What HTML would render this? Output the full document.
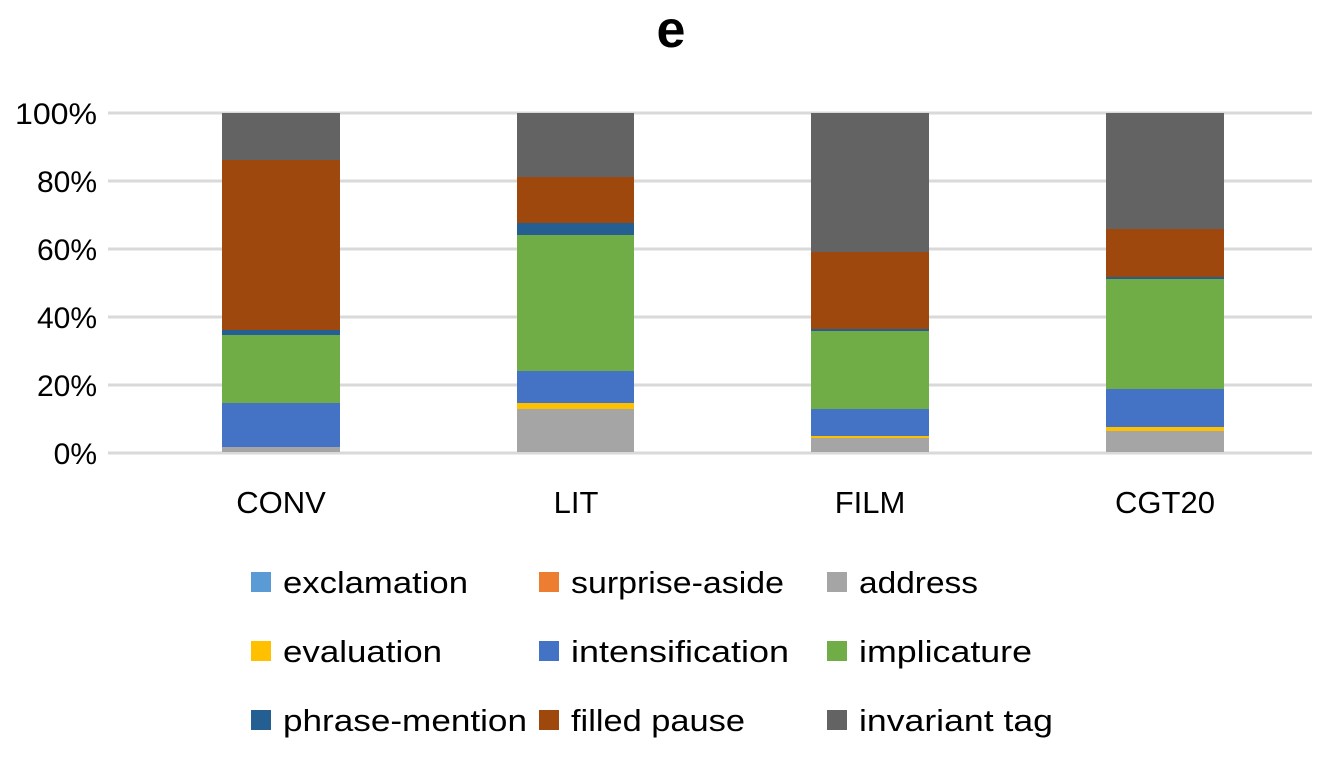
<!DOCTYPE html>
<html><head><meta charset="utf-8"><style>
body{margin:0;background:#fff;}
svg text{font-family:"Liberation Sans",sans-serif;fill:#000;}
</style></head><body>
<svg width="1330" height="756" xmlns="http://www.w3.org/2000/svg">
<rect width="1330" height="756" fill="#fff"/>
<text x="671" y="47" font-size="52" font-weight="bold" text-anchor="middle">e</text>
<g stroke="#d9d9d9" stroke-width="3">
<line x1="108" x2="1312" y1="113" y2="113"/>
<line x1="108" x2="1312" y1="181" y2="181"/>
<line x1="108" x2="1312" y1="249" y2="249"/>
<line x1="108" x2="1312" y1="317" y2="317"/>
<line x1="108" x2="1312" y1="385" y2="385"/>
<line x1="108" x2="1312" y1="453" y2="453"/>
</g>
<g font-size="30" text-anchor="end">
<text x="97" y="124" textLength="82" lengthAdjust="spacingAndGlyphs">100%</text>
<text x="97" y="192">80%</text>
<text x="97" y="260">60%</text>
<text x="97" y="328">40%</text>
<text x="97" y="396">20%</text>
<text x="97" y="464">0%</text>
</g>
<g transform="translate(222,0)">
<rect y="447" width="118" height="5" fill="#a5a5a5"/>
<rect y="403" width="118" height="44" fill="#4472c4"/>
<rect y="335" width="118" height="68" fill="#70ad47"/>
<rect y="330" width="118" height="5" fill="#255e91"/>
<rect y="160" width="118" height="170" fill="#9e480e"/>
<rect y="113" width="118" height="47" fill="#636363"/>
</g>
<g transform="translate(517,0)">
<rect y="409" width="117" height="43" fill="#a5a5a5"/>
<rect y="403" width="117" height="6" fill="#ffc000"/>
<rect y="371" width="117" height="32" fill="#4472c4"/>
<rect y="235" width="117" height="136" fill="#70ad47"/>
<rect y="223" width="117" height="12" fill="#255e91"/>
<rect y="177" width="117" height="46" fill="#9e480e"/>
<rect y="113" width="117" height="64" fill="#636363"/>
</g>
<g transform="translate(811,0)">
<rect y="438" width="118" height="14" fill="#a5a5a5"/>
<rect y="436" width="118" height="2" fill="#ffc000"/>
<rect y="409" width="118" height="27" fill="#4472c4"/>
<rect y="331" width="118" height="78" fill="#70ad47"/>
<rect y="329" width="118" height="2" fill="#255e91"/>
<rect y="252" width="118" height="77" fill="#9e480e"/>
<rect y="113" width="118" height="139" fill="#636363"/>
</g>
<g transform="translate(1106,0)">
<rect y="431" width="118" height="21" fill="#a5a5a5"/>
<rect y="427" width="118" height="4" fill="#ffc000"/>
<rect y="389" width="118" height="38" fill="#4472c4"/>
<rect y="279" width="118" height="110" fill="#70ad47"/>
<rect y="277" width="118" height="2" fill="#255e91"/>
<rect y="229" width="118" height="48" fill="#9e480e"/>
<rect y="113" width="118" height="116" fill="#636363"/>
</g>
<g font-size="31" text-anchor="middle">
<text x="281" y="513">CONV</text>
<text x="576" y="513">LIT</text>
<text x="870" y="513">FILM</text>
<text x="1165" y="513">CGT20</text>
</g>
<g font-size="31" lengthAdjust="spacingAndGlyphs">
<rect x="251" y="572" width="20" height="20" fill="#5b9bd5"/><text x="283" y="593" textLength="185" lengthAdjust="spacingAndGlyphs">exclamation</text>
<rect x="539" y="572" width="20" height="20" fill="#ed7d31"/><text x="571" y="593" textLength="213" lengthAdjust="spacingAndGlyphs">surprise-aside</text>
<rect x="827" y="572" width="20" height="20" fill="#a5a5a5"/><text x="859" y="593" textLength="119" lengthAdjust="spacingAndGlyphs">address</text>
<rect x="251" y="641" width="20" height="20" fill="#ffc000"/><text x="283" y="662" textLength="159" lengthAdjust="spacingAndGlyphs">evaluation</text>
<rect x="539" y="641" width="20" height="20" fill="#4472c4"/><text x="571" y="662" textLength="218" lengthAdjust="spacingAndGlyphs">intensification</text>
<rect x="827" y="641" width="20" height="20" fill="#70ad47"/><text x="859" y="662" textLength="173" lengthAdjust="spacingAndGlyphs">implicature</text>
<rect x="251" y="710" width="20" height="20" fill="#255e91"/><text x="283" y="731" textLength="244" lengthAdjust="spacingAndGlyphs">phrase-mention</text>
<rect x="539" y="710" width="20" height="20" fill="#9e480e"/><text x="571" y="731" textLength="174" lengthAdjust="spacingAndGlyphs">filled pause</text>
<rect x="827" y="710" width="20" height="20" fill="#636363"/><text x="859" y="731" textLength="194" lengthAdjust="spacingAndGlyphs">invariant tag</text>
</g>
</svg>
</body></html>
